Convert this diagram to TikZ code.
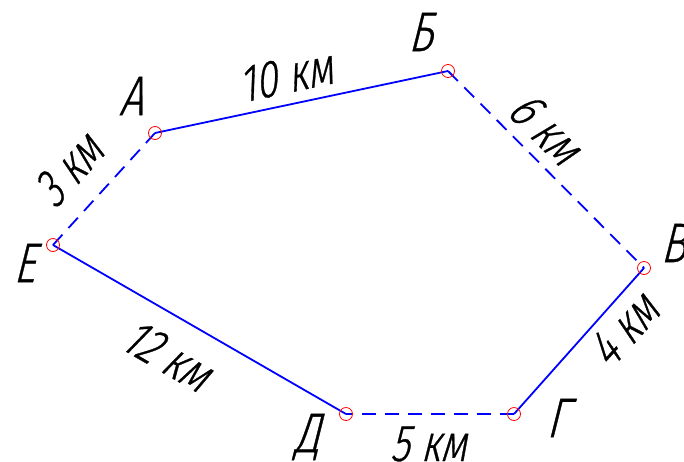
\documentclass[tikz,border=0pt]{standalone}
\usepackage{fontspec}
\setmainfont{Fira Sans}[UprightFont=* Light, FakeSlant=0.25, FakeStretch=0.76, FakeBold=0.6]
\begin{document}
\begin{tikzpicture}[x=1pt,y=-1pt,
  pt/.style={circle,draw=red,line width=0.8pt,minimum size=13pt,inner sep=0pt},
  solidln/.style={blue,line width=1.8pt},
  dashln/.style={blue,line width=1.8pt,dash pattern=on 14pt off 9pt},
  vlabel/.style={font=\fontsize{56}{60}\selectfont,inner sep=0pt},
  dlabel/.style={font=\fontsize{52}{56}\selectfont,inner sep=0pt}]
\useasboundingbox (0,0) rectangle (684,461);
% vertices
\coordinate (a) at (155,133);
\coordinate (b) at (448,71);
\coordinate (v) at (644,268);
\coordinate (g) at (514,414);
\coordinate (d) at (346,414);
\coordinate (e) at (53,245);
% edges
\draw[solidln] (a) -- (b);
\draw[dashln] (b) -- (v);
\draw[solidln] (v) -- (g);
\draw[dashln] (g) -- (d);
\draw[solidln] (d) -- (e);
\draw[dashln] (e) -- (a);
% markers
\node[pt] (ma) at (a) {};
\node[pt] (mb) at (b) {};
\node[pt] (mv) at (v) {};
\node[pt] (mg) at (g) {};
\node[pt] (md) at (d) {};
\node[pt] (me) at (e) {};
% vertex labels
\node[vlabel] (la) at (131,96) {А};
\node[vlabel] (lb) at (420,32) {Б};
\node[vlabel] (lv) at (673,243) {В};
\node[vlabel] (lg) at (557,418) {Г};
\node[vlabel] (ld) at (307,437) {Д};
\node[vlabel] (le) at (24,263) {Е};
% distance labels
\node[dlabel,rotate=12] (dab) at (285,76) {10 км};
\node[dlabel,rotate=-45] (dbv) at (545,128) {6 км};
\node[dlabel,rotate=48] (dvg) at (623,330) {4 км};
\node[dlabel] (dgd) at (428,444) {5 км};
\node[dlabel,rotate=-30] (dde) at (167,355) {12 км};
\node[dlabel,rotate=48] (dea) at (68,170) {3 км};
\end{tikzpicture}
\end{document}
